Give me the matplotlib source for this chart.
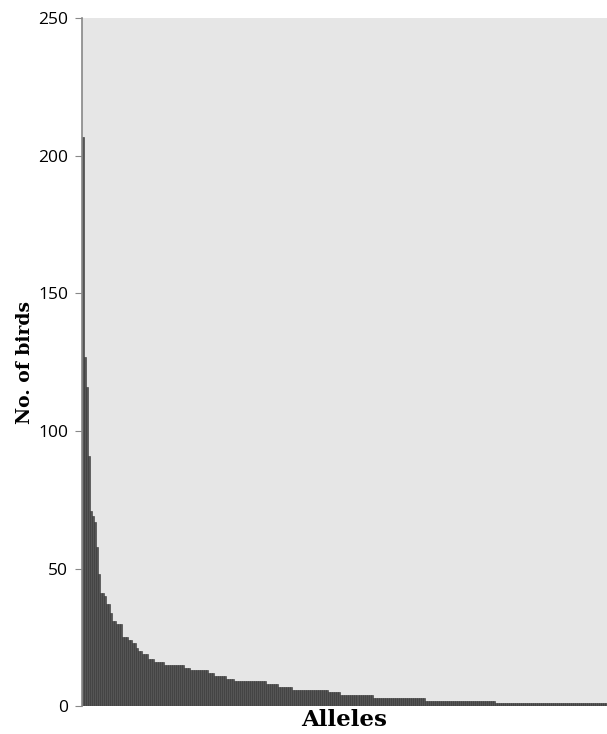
import matplotlib.pyplot as plt
import numpy as np

# number of birds carrying each allele, sorted from most to least common
top_counts = [207, 127, 116, 91, 71, 69, 67, 58, 48, 41, 41, 40, 37, 37, 34,
              31, 31, 30, 30, 30, 25, 25, 25, 24, 24, 23, 23, 21, 20, 20,
              19, 19, 19, 17, 17, 17]
# (count, number of alleles with that count) for the long tail
tail_runs = [(16, 5), (15, 10), (14, 3), (13, 9), (12, 3), (11, 6), (10, 4),
             (9, 16), (8, 6), (7, 7), (6, 18), (5, 6), (4, 16), (3, 26),
             (2, 35), (1, 56)]

y_ticks = [0, 50, 100, 150, 200, 250]


def allele_counts():
    counts = list(top_counts)
    for value, n in tail_runs:
        counts += [value] * n
    return np.array(counts)


def main():
    counts = allele_counts()
    x = np.arange(len(counts))

    fig = plt.figure(figsize=(6.07, 7.34), dpi=100)
    ax = fig.add_axes([0.135, 0.038, 0.865, 0.937])
    ax.set_facecolor('#e6e6e6')

    ax.bar(x, counts, width=1.0, color='#555555', edgecolor='#333333',
           linewidth=0.4)

    ax.set_xlim(-0.5, len(counts) - 0.5)
    ax.set_ylim(0, 250)
    ax.set_yticks(y_ticks)
    ax.set_xticks([])
    ax.tick_params(axis='y', direction='out', length=5, color='#888888',
                   labelsize=12.5, pad=5)
    for lbl in ax.get_yticklabels():
        lbl.set_family('Open Sans')

    for side in ['top', 'right', 'bottom']:
        ax.spines[side].set_visible(False)
    ax.spines['left'].set_color('#888888')
    ax.spines['left'].set_linewidth(1.2)

    ax.set_ylabel('No. of birds', family='DejaVu Serif', fontweight='bold',
                  fontsize=13.5, labelpad=3)
    ax.set_xlabel('Alleles', family='DejaVu Serif', fontweight='bold',
                  fontsize=16.5, labelpad=2)

    fig.savefig('out.png', dpi=100)


if __name__ == '__main__':
    main()
